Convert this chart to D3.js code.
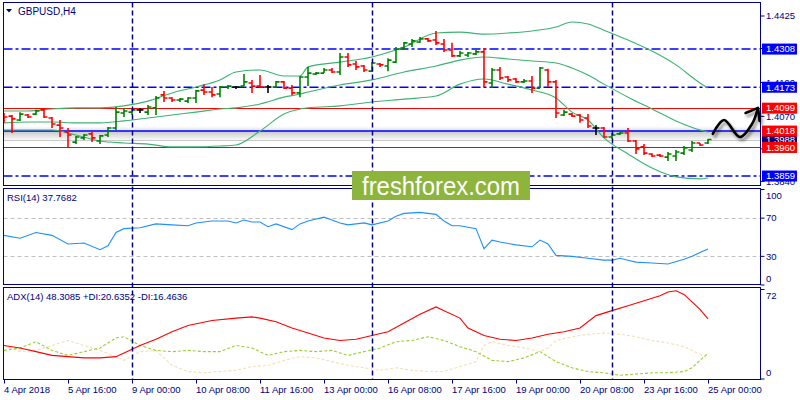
<!DOCTYPE html>
<html><head><meta charset="utf-8">
<script src="https://cdn.jsdelivr.net/npm/d3@7"></script>
<style>body{margin:0;background:#fff}svg{display:block}text{font-family:"Liberation Sans",Arial,sans-serif}</style>
</head><body><svg id="c" width="800" height="400"></svg>
<script>
// ---------------- DATA ----------------
const symbol = "GBPUSD,H4";
const timeLabelIdx = [0,8,16,24,32,40,48,56,64,72,80,88];
const timeLabels = ["4 Apr 2018","5 Apr 16:00","9 Apr 00:00","10 Apr 08:00","11 Apr 16:00","13 Apr 00:00","16 Apr 08:00","17 Apr 16:00","19 Apr 00:00","20 Apr 08:00","23 Apr 16:00","25 Apr 00:00"];
const separatorIdx = [16,46,76];

const opens = [1.4075,1.4071,1.4057,1.4075,1.4078,1.4093,1.4064,1.4039,1.4015,1.3979,1.3994,1.4008,1.3983,1.4004,1.4029,1.4082,1.4085,1.4093,1.4085,1.4100,1.4146,1.4135,1.4128,1.4124,1.4135,1.4163,1.4156,1.4149,1.4174,1.4174,1.4177,1.4188,1.4177,1.4174,1.4174,1.4192,1.4170,1.4153,1.4209,1.4220,1.4223,1.4234,1.4227,1.4280,1.4255,1.4248,1.4230,1.4255,1.4248,1.4262,1.4312,1.4326,1.4333,1.4344,1.4340,1.4326,1.4305,1.4284,1.4287,1.4291,1.4298,1.4188,1.4234,1.4209,1.4202,1.4192,1.4195,1.4170,1.4234,1.4192,1.4075,1.4078,1.4075,1.4064,1.4029,1.4029,1.3997,1.4008,1.4011,1.3983,1.3962,1.3937,1.3933,1.3926,1.3930,1.3940,1.3951,1.3976,1.3976];
const highs = [1.4082,1.4075,1.4085,1.4078,1.4093,1.4096,1.4068,1.4057,1.4029,1.4001,1.4008,1.4015,1.4004,1.4032,1.4103,1.4100,1.4096,1.4100,1.4110,1.4142,1.4160,1.4138,1.4135,1.4138,1.4163,1.4184,1.4174,1.4177,1.4181,1.4177,1.4220,1.4199,1.4216,1.4181,1.4195,1.4195,1.4181,1.4213,1.4245,1.4227,1.4241,1.4241,1.4294,1.4294,1.4266,1.4252,1.4262,1.4259,1.4276,1.4315,1.4333,1.4344,1.4351,1.4347,1.4372,1.4344,1.4330,1.4301,1.4298,1.4305,1.4312,1.4241,1.4245,1.4213,1.4206,1.4202,1.4213,1.4245,1.4238,1.4199,1.4093,1.4082,1.4078,1.4078,1.4039,1.4032,1.4011,1.4015,1.4029,1.3986,1.3972,1.3940,1.3937,1.3944,1.3951,1.3965,1.3983,1.3976,1.3990];
const lows = [1.4047,1.4011,1.4054,1.4064,1.4075,1.4064,1.4029,1.3997,1.3958,1.3972,1.3986,1.3979,1.3972,1.3997,1.4022,1.4068,1.4075,1.4082,1.4075,1.4075,1.4121,1.4121,1.4121,1.4117,1.4117,1.4146,1.4138,1.4138,1.4167,1.4167,1.4177,1.4153,1.4170,1.4153,1.4170,1.4167,1.4146,1.4138,1.4177,1.4216,1.4223,1.4223,1.4216,1.4245,1.4234,1.4227,1.4227,1.4245,1.4230,1.4259,1.4305,1.4315,1.4330,1.4333,1.4322,1.4298,1.4280,1.4280,1.4280,1.4287,1.4174,1.4170,1.4199,1.4192,1.4188,1.4188,1.4153,1.4170,1.4174,1.4064,1.4071,1.4068,1.4047,1.4029,1.4004,1.3994,1.3990,1.4004,1.3979,1.3937,1.3933,1.3926,1.3926,1.3912,1.3912,1.3933,1.3944,1.3965,1.3972];
const closes = [1.4068,1.4061,1.4078,1.4068,1.4089,1.4068,1.4043,1.4029,1.4004,1.3997,1.4004,1.3994,1.4001,1.4029,1.4085,1.4089,1.4093,1.4093,1.4103,1.4135,1.4135,1.4128,1.4131,1.4135,1.4160,1.4156,1.4146,1.4174,1.4177,1.4174,1.4192,1.4177,1.4174,1.4174,1.4192,1.4170,1.4153,1.4209,1.4223,1.4223,1.4234,1.4227,1.4280,1.4252,1.4245,1.4234,1.4259,1.4252,1.4269,1.4308,1.4330,1.4337,1.4344,1.4337,1.4330,1.4305,1.4284,1.4294,1.4294,1.4298,1.4192,1.4234,1.4206,1.4199,1.4192,1.4195,1.4170,1.4241,1.4192,1.4082,1.4085,1.4071,1.4057,1.4036,1.4029,1.3997,1.4004,1.4011,1.3983,1.3955,1.3940,1.3930,1.3930,1.3937,1.3944,1.3958,1.3976,1.3969,1.3988];

const bandIdx = [0,3,6,9,12,15,18,21,24,27,29,32,35,37,38,42,46,50,54,57,60,63,66,69,71,73,75,78,81,84,87,88];
const upperBand = [1.4089,1.4089,1.4096,1.4100,1.4100,1.4107,1.4124,1.4153,1.4174,1.4199,1.4227,1.4234,1.4213,1.4213,1.4245,1.4262,1.4280,1.4315,1.4365,1.4368,1.4361,1.4365,1.4372,1.4386,1.4404,1.4397,1.4375,1.4340,1.4301,1.4252,1.4188,1.4170];
const middleBand = [1.4047,1.4050,1.4050,1.4047,1.4047,1.4054,1.4064,1.4075,1.4085,1.4096,1.4100,1.4114,1.4138,1.4149,1.4156,1.4181,1.4199,1.4227,1.4248,1.4269,1.4280,1.4273,1.4266,1.4259,1.4241,1.4216,1.4184,1.4138,1.4096,1.4054,1.4022,1.4015];
const lowerBand = [1.4022,1.4022,1.4022,1.4004,1.3983,1.3976,1.3972,1.3962,1.3962,1.3965,1.3969,1.4018,1.4078,1.4096,1.4100,1.4107,1.4121,1.4131,1.4142,1.4184,1.4202,1.4184,1.4163,1.4135,1.4085,1.4057,1.3994,1.3937,1.3887,1.3856,1.3849,1.3852];

const priceTicks = [1.4425,1.4310,1.4190,1.4070,1.3955,1.3840];
const priceTickLabels = ["1.4425","","1.4190","1.4070","","1.3840"];
const dashDotLevels = [1.4308,1.4173,1.3859];
const redLevels = [1.4099,1.3960];
const blueLevel = 1.4018;
const bidPrice = 1.3988;
const blueLabels = [1.4308,1.4173,1.3859];
const redLabels = [1.4099,1.4018,1.3960];

const rsiIdx = [0,2,4,6,8,10,12,13,14,15,17,19,21,23,24,26,28,29,30,31,32,33,34,36,37,38,40,41,42,43,45,46,48,49,50,52,54,55,56,57,59,60,61,62,64,66,67,68,69,71,73,75,76,77,78,79,81,83,85,86,87,88];
const rsiVal = [52,49,55,52,43,44,37,41,55,59,60,64,63,62,65,67,67,65,68,66,66,61,64,58,64,67,71,68,65,63,65,63,67,72,75,76,74,67,62,62,59,38,47,45,42,40,47,43,31,30,28,26,26,28,26,24,23,22,27,30,34,37.7682];
const rsiLevels = [70,30];
const rsiTicks = [100,70,30,0];

const adxIdx = [0,2,4,6,8,10,12,14,15,17,19,21,23,26,29,31,32,34,36,38,40,42,44,46,48,50,52,54,55,57,58,60,62,64,66,68,70,72,74,76,78,80,82,83,84,85,86,87,88];
const adxVal = [27,25,22,19,18,17,17,18,21,27,32,38,43,47,49,50,49,46,41,37,33,31,32,35,38,45,52,58,55,49,41,35,32,31,33,36,38,41,51,55,59,63,67,70,71,68,62,56,48.3085];
const pdiIdx = [0,2,4,6,8,10,12,14,15,17,19,21,23,25,27,29,31,33,35,37,39,41,43,45,47,49,51,53,55,57,59,61,63,65,67,69,71,73,75,77,79,81,83,85,86,87,88];
const pdiVal = [23,25,30,23,19,22,25,33,34,27,23,22,23,22,22,27,25,19,22,23,22,23,19,22,25,30,31,34,31,26,22,15,14,17,22,14,9,6,5,3,4,5,5,6,9,15,20.6352];
const mdiIdx = [0,2,4,6,8,10,12,14,15,17,19,21,23,25,27,29,31,33,35,37,39,41,43,45,47,49,51,53,55,57,59,60,61,63,65,67,68,69,71,73,75,77,79,81,83,85,87,88];
const mdiVal = [27,22,23,27,31,27,23,18,15,22,23,11,6,5,6,7,10,11,15,18,17,14,11,9,7,9,7,6,6,10,14,27,30,27,25,22,25,31,34,36,37,36,34,31,29,26,20,16.4636];
const adxTicks = [72,0];

// annotation arrow in (bar index, price) space
const arrowShaft = [[88.6,1.4008],[90.0,1.4057],[92.0,1.3997],[93.5,1.4043],[94.2,1.4095]];
const arrowHead = [[92.7,1.4082],[94.25,1.4100],[94.45,1.4054]];

// ---------------- LAYOUT ----------------
const svg = d3.select("#c");
const L = 3.5, R = 760.5;
const P = {main:[2.5,185.5], rsi:[188.5,284.5], adx:[287.5,379.5]};
const navy = "#000080";
const x = d3.scaleLinear().domain([0,88]).range([4,708]);
const y = d3.scaleLinear().domain([1.3840,1.4425]).range([181.4,16]);
const yR = d3.scaleLinear().domain([0,100]).range([285,189.5]);
const yA = d3.scaleLinear().domain([0,72]).range([379,289.5]);

const defs = svg.append("defs");
Object.entries(P).forEach(([k,[t,b]])=>{
  defs.append("clipPath").attr("id","clip-"+k).append("rect").attr("x",L).attr("y",t).attr("width",R-L).attr("height",b-t);
});
const g1 = defs.append("linearGradient").attr("id","shadowDown").attr("x1",0).attr("x2",0).attr("y1",0).attr("y2",1);
g1.append("stop").attr("offset",0).attr("stop-color","#000").attr("stop-opacity",0.22);
g1.append("stop").attr("offset",1).attr("stop-color","#000").attr("stop-opacity",0);
const g2 = defs.append("linearGradient").attr("id","shadowUp").attr("x1",0).attr("x2",0).attr("y1",1).attr("y2",0);
g2.append("stop").attr("offset",0).attr("stop-color","#000").attr("stop-opacity",0.12);
g2.append("stop").attr("offset",1).attr("stop-color","#000").attr("stop-opacity",0);
const f = defs.append("filter").attr("id","ds").attr("x","-50%").attr("y","-50%").attr("width","200%").attr("height","200%");
f.append("feDropShadow").attr("dx",2).attr("dy",3).attr("stdDeviation",1.6).attr("flood-color","#000").attr("flood-opacity",0.45);

svg.append("rect").attr("width",800).attr("height",400).attr("fill","#fff");

// ---------------- MAIN PANEL ----------------
const gm = svg.append("g").attr("clip-path","url(#clip-main)");
gm.append("rect").attr("x",L).attr("width",R-L).attr("y",y(blueLevel)).attr("height",10).attr("fill","url(#shadowDown)");
gm.append("rect").attr("x",L).attr("width",R-L).attr("y",y(blueLevel)-5).attr("height",5).attr("fill","url(#shadowUp)");
gm.append("line").attr("x1",L).attr("x2",R).attr("y1",Math.round(y(bidPrice))+0.5).attr("y2",Math.round(y(bidPrice))+0.5).attr("stroke","#c8c8c8").attr("stroke-width",1);
dashDotLevels.forEach(v=>{
  gm.append("line").attr("x1",L).attr("x2",R).attr("y1",y(v)).attr("y2",y(v))
    .attr("stroke","#0000ff").attr("stroke-width",1.5).attr("stroke-dasharray","9,3,3,3");
});
redLevels.forEach(v=>{
  gm.append("line").attr("x1",L).attr("x2",R).attr("y1",Math.round(y(v))+0.5).attr("y2",Math.round(y(v))+0.5)
    .attr("stroke","#ff0000").attr("stroke-width",1.2);
});
gm.append("line").attr("x1",L).attr("x2",R).attr("y1",y(blueLevel)).attr("y2",y(blueLevel)).attr("stroke","#0000ff").attr("stroke-width",1.6);

// bands
const bandLine = arr => d3.line().x((d,i)=>x(bandIdx[i])).y(d=>y(d)).curve(d3.curveMonotoneX)(arr);
[upperBand,middleBand,lowerBand].forEach(arr=>{
  gm.append("path").attr("d",bandLine(arr)).attr("fill","none").attr("stroke","#3cb371").attr("stroke-width",1.1);
});

// bars
const bars = opens.map((o,i)=>({i,o,h:highs[i],l:lows[i],c:closes[i]}));
const colorOf = d => d.c>d.o ? "#008000" : (d.c<d.o ? "#ff0000" : "#000000");
const bg = gm.append("g");
bars.forEach(d=>{
  const cx = Math.round(x(d.i));
  const col = colorOf(d);
  bg.append("line").attr("x1",cx).attr("x2",cx).attr("y1",y(d.h)).attr("y2",y(d.l)).attr("stroke",col).attr("stroke-width",1.6);
  bg.append("line").attr("x1",cx-3.5).attr("x2",cx).attr("y1",y(d.o)).attr("y2",y(d.o)).attr("stroke",col).attr("stroke-width",1.6);
  bg.append("line").attr("x1",cx).attr("x2",cx+3.5).attr("y1",y(d.c)).attr("y2",y(d.c)).attr("stroke",col).attr("stroke-width",1.6);
});

// ---------------- RSI PANEL ----------------
const gr = svg.append("g").attr("clip-path","url(#clip-rsi)");
rsiLevels.forEach(v=>{
  gr.append("line").attr("x1",L).attr("x2",R).attr("y1",Math.round(yR(v))+0.5).attr("y2",Math.round(yR(v))+0.5)
    .attr("stroke","#c0c0c0").attr("stroke-dasharray","4,3");
});
gr.append("path").attr("d",d3.line().x((d,i)=>x(rsiIdx[i])).y(d=>yR(d))(rsiVal))
  .attr("fill","none").attr("stroke","#1e90ff").attr("stroke-width",1.1);

// ---------------- ADX PANEL ----------------
const ga = svg.append("g").attr("clip-path","url(#clip-adx)");
ga.append("path").attr("d",d3.line().x((d,i)=>x(mdiIdx[i])).y(d=>yA(d))(mdiVal))
  .attr("fill","none").attr("stroke","#f5deb3").attr("stroke-width",1.1).attr("stroke-dasharray","3,2");
ga.append("path").attr("d",d3.line().x((d,i)=>x(pdiIdx[i])).y(d=>yA(d))(pdiVal))
  .attr("fill","none").attr("stroke","#9acd32").attr("stroke-width",1.1).attr("stroke-dasharray","3,2");
ga.append("path").attr("d",d3.line().x((d,i)=>x(adxIdx[i])).y(d=>yA(d))(adxVal))
  .attr("fill","none").attr("stroke","#ff0000").attr("stroke-width",1.1);

// ---------------- SEPARATORS ----------------
separatorIdx.forEach(i=>{
  const sx = Math.round(x(i))+0.5;
  svg.append("line").attr("x1",sx).attr("x2",sx).attr("y1",P.main[0]).attr("y2",P.adx[1])
    .attr("stroke",navy).attr("stroke-width",1.5).attr("stroke-dasharray","5,3");
});

// ---------------- BORDERS ----------------
Object.values(P).forEach(([t,b])=>{
  svg.append("rect").attr("x",L).attr("y",t).attr("width",R-L).attr("height",b-t)
    .attr("fill","none").attr("stroke",navy).attr("stroke-width",1);
});

// ---------------- TEXT LABELS ----------------
const fs = "9.5px";
svg.append("path").attr("d","M6,9 L12,9 L9,12.5 Z").attr("fill",navy);
svg.append("text").attr("x",18).attr("y",14.5).attr("font-size","10px").attr("fill",navy).text(symbol);
svg.append("text").attr("x",7).attr("y",201).attr("font-size",fs).attr("fill",navy)
  .text("RSI(14) " + rsiVal[rsiVal.length-1].toFixed(4));
svg.append("text").attr("x",7).attr("y",300).attr("font-size",fs).attr("fill",navy)
  .text("ADX(14) " + adxVal[adxVal.length-1].toFixed(4) + " +DI:" + pdiVal[pdiVal.length-1].toFixed(4) + " -DI:" + mdiVal[mdiVal.length-1].toFixed(4));

// right price axis
const ra = svg.append("g");
priceTicks.forEach((v,k)=>{
  ra.append("line").attr("x1",R).attr("x2",R+4).attr("y1",y(v)).attr("y2",y(v)).attr("stroke",navy);
  if (priceTickLabels[k]) ra.append("text").attr("x",766).attr("y",y(v)).attr("dy","0.35em").attr("font-size",fs).attr("fill",navy).text(priceTickLabels[k]);
});
const box = (v,col)=>{
  const cy = y(v);
  ra.append("rect").attr("x",762).attr("y",cy-5.5).attr("width",35).attr("height",11).attr("fill",col);
  ra.append("text").attr("x",766).attr("y",cy).attr("dy","0.35em").attr("font-size",fs).attr("fill","#fff").text(v.toFixed(4));
};
box(bidPrice,"#000080");
blueLabels.forEach(v=>box(v,"#0000ff"));
redLabels.forEach(v=>box(v,"#ff0000"));

// RSI axis
rsiTicks.forEach(v=>{
  const ty = yR(v);
  ra.append("line").attr("x1",R).attr("x2",R+4).attr("y1",ty).attr("y2",ty).attr("stroke",navy);
  const ly = v===100 ? ty+6 : (v===0 ? ty-6 : ty);
  ra.append("text").attr("x",766).attr("y",ly).attr("dy","0.35em").attr("font-size",fs).attr("fill",navy).text(v);
});
// ADX axis
adxTicks.forEach(v=>{
  const ty = yA(v);
  ra.append("line").attr("x1",R).attr("x2",R+4).attr("y1",ty).attr("y2",ty).attr("stroke",navy);
  const ly = v===0 ? ty-6 : ty+6;
  ra.append("text").attr("x",766).attr("y",ly).attr("dy","0.35em").attr("font-size",fs).attr("fill",navy).text(v);
});

// time axis
timeLabelIdx.forEach((i,k)=>{
  const tx = Math.round(x(i))+0.5;
  svg.append("line").attr("x1",tx).attr("x2",tx).attr("y1",P.adx[1]).attr("y2",P.adx[1]+4).attr("stroke",navy);
  svg.append("text").attr("x",tx-0.5).attr("y",392.5).attr("font-size",fs).attr("fill",navy).text(timeLabels[k]);
});

// ---------------- WATERMARK ----------------
svg.append("rect").attr("x",352).attr("y",171).attr("width",178).attr("height",29).attr("fill","#8db43c");
svg.append("text").attr("x",441).attr("y",195).attr("text-anchor","middle").attr("font-size","25px")
  .attr("font-family","'Open Sans',sans-serif").attr("fill","#fff")
  .attr("textLength",158).attr("lengthAdjust","spacingAndGlyphs").text("freshforex.com");

// ---------------- ARROW ----------------
const ag = svg.append("g").attr("filter","url(#ds)").attr("fill","none").attr("stroke","#000").attr("stroke-width",2.6).attr("stroke-linecap","round").attr("stroke-linejoin","round");
ag.append("path").attr("d",d3.line().x(d=>x(d[0])).y(d=>y(d[1])).curve(d3.curveCatmullRom)(arrowShaft));
ag.append("path").attr("d",d3.line().x(d=>x(d[0])).y(d=>y(d[1]))(arrowHead));
</script></body></html>
